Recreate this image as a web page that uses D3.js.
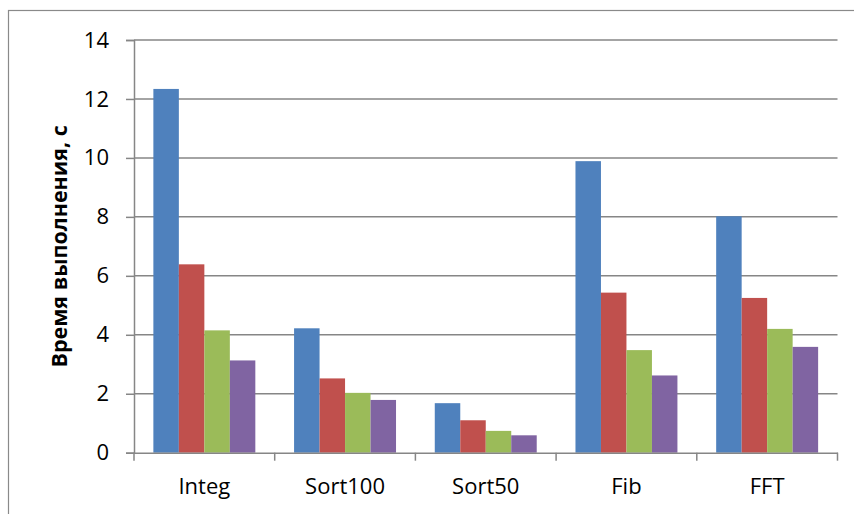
<!DOCTYPE html>
<html>
<head>
<meta charset="utf-8">
<script src="https://cdn.jsdelivr.net/npm/d3@7"></script>
<style>
  html, body { margin: 0; padding: 0; background: #fff; }
  svg { display: block; }
  text { font-family: "Open Sans", "Noto Sans", sans-serif; fill: #000; }
</style>
</head>
<body>
<svg id="chart" width="854" height="514"></svg>
<script>
// Benchmarks and execution times (seconds) for four configurations
const categories = ["Integ", "Sort100", "Sort50", "Fib", "FFT"];
const series1 = [12.34, 4.22, 1.68, 9.89, 8.02];
const series2 = [6.39, 2.52, 1.10, 5.43, 5.25];
const series3 = [4.15, 2.03, 0.74, 3.48, 4.20];
const series4 = [3.13, 1.79, 0.59, 2.62, 3.59];
const yTicks = [0, 2, 4, 6, 8, 10, 12, 14];
const yTitle = "Время выполнения, с";

const seriesList = [series1, series2, series3, series4];
const colors = ["#4F81BD", "#C0504D", "#9BBB59", "#8064A2"];

const svg = d3.select("#chart");
const W = 854, H = 514;
const margin = { left: 134, right: W - 837.5, top: 40, bottom: H - 452.7 };

// chart frame
svg.append("rect")
  .attr("x", 8.5).attr("y", 10.5)
  .attr("width", 860).attr("height", 520)
  .attr("fill", "none").attr("stroke", "#8a8a8a").attr("stroke-width", 1.2);

const x = d3.scaleBand()
  .domain(categories)
  .range([margin.left, W - margin.right])
  .paddingInner(0).paddingOuter(0);

const inner = d3.scaleBand()
  .domain(d3.range(seriesList.length))
  .range([0, x.bandwidth()])
  .paddingOuter(0.76).paddingInner(0);

const y = d3.scaleLinear().domain([0, 14]).range([H - margin.bottom, margin.top]);

// y axis with ticks
const yAxis = d3.axisLeft(y).tickValues(yTicks).tickSize(8).tickPadding(17).tickFormat(d3.format("d"));
const gy = svg.append("g").attr("transform", `translate(${margin.left},0)`).call(yAxis);
gy.select(".domain").attr("stroke", "#868686").attr("stroke-width", 1.5);
gy.selectAll(".tick line").attr("stroke", "#868686").attr("stroke-width", 1.5);
gy.selectAll(".tick text").attr("font-size", 22).attr("font-family", "Open Sans, sans-serif").attr("fill", "#000");

// horizontal gridlines
svg.append("g").selectAll("line")
  .data(yTicks.filter(d => d > 0))
  .join("line")
  .attr("x1", margin.left).attr("x2", W - margin.right)
  .attr("y1", d => y(d)).attr("y2", d => y(d))
  .attr("stroke", "#868686").attr("stroke-width", 1.5);

// bars
const groups = svg.append("g").selectAll("g")
  .data(categories)
  .join("g")
  .attr("transform", c => `translate(${x(c)},0)`);

groups.selectAll("rect")
  .data((c, ci) => seriesList.map((s, si) => ({ si, v: s[ci] })))
  .join("rect")
  .attr("x", d => inner(d.si))
  .attr("width", inner.bandwidth())
  .attr("y", d => y(d.v))
  .attr("height", d => y(0) - y(d.v))
  .attr("fill", d => colors[d.si]);

// x axis
const xAxis = d3.axisBottom(x).tickSize(0).tickPadding(26);
const gx = svg.append("g").attr("transform", `translate(0,${y(0)})`).call(xAxis);
gx.select(".domain").attr("stroke", "#868686").attr("stroke-width", 1.5);
gx.selectAll(".tick text").attr("font-size", 22).attr("font-family", "Open Sans, sans-serif").attr("fill", "#000");

// category separator ticks
const bounds = categories.map(c => x(c)).concat([x(categories[categories.length - 1]) + x.bandwidth()]);
svg.append("g").selectAll("line")
  .data(bounds)
  .join("line")
  .attr("x1", d => d).attr("x2", d => d)
  .attr("y1", y(0)).attr("y2", y(0) + 8)
  .attr("stroke", "#868686").attr("stroke-width", 1.5);

// y axis title
svg.append("text")
  .attr("transform", `translate(66.5,${(y(0) + y(14)) / 2}) rotate(-90)`)
  .attr("text-anchor", "middle")
  .attr("font-size", 21.5)
  .attr("font-weight", "bold")
  .text(yTitle);
</script>
</body>
</html>
